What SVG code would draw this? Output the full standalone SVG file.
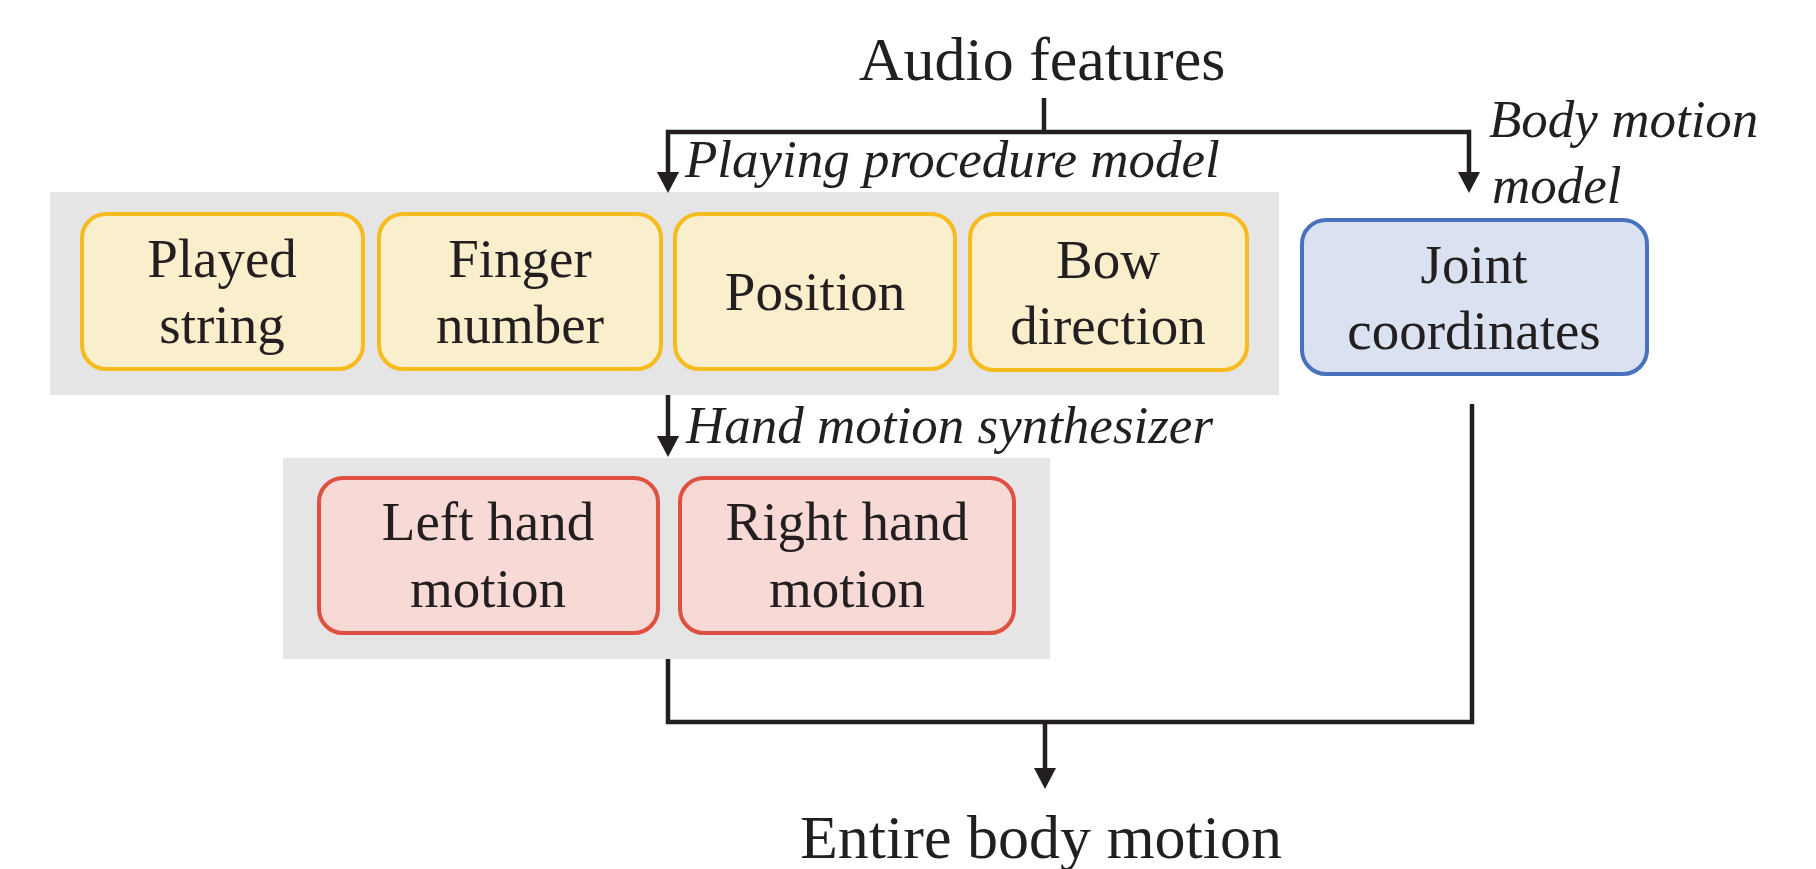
<svg xmlns="http://www.w3.org/2000/svg" width="1816" height="869" viewBox="0 0 1816 869">
<defs>
<style>
.t{font-family:"Liberation Serif","Times New Roman",serif;fill:#231f20;text-anchor:middle}
.lbl{font-size:55px}
.big{font-size:62px}
.it{font-family:"Liberation Serif","Times New Roman",serif;font-style:italic;font-size:53px;fill:#231f20}
.panel{fill:#e5e5e5}
.y{fill:#faefcd;stroke:#f5bb1f;stroke-width:4}
.r{fill:#f7d9d6;stroke:#e05040;stroke-width:4}
.b{fill:#dae1f0;stroke:#4a72bc;stroke-width:4}
.ln{fill:none;stroke:#231f20;stroke-width:4.5}
.ah{fill:#231f20}
</style>
</defs>
<rect width="1816" height="869" fill="#ffffff"/>
<g id="panel-playing"><rect class="panel" x="50" y="192" width="1229" height="203"/></g>
<g id="panel-hand"><rect class="panel" x="283" y="458" width="767" height="201"/></g>

<g id="played-string"><rect class="y" x="82" y="214" width="281" height="155" rx="24"/>
<text class="t lbl" x="222" y="277">Played</text><text class="t lbl" x="222" y="343">string</text></g>
<g id="finger-number"><rect class="y" x="379" y="214" width="282" height="155" rx="24"/>
<text class="t lbl" x="520" y="277">Finger</text><text class="t lbl" x="520" y="343">number</text></g>
<g id="position"><rect class="y" x="675" y="214" width="280" height="155" rx="24"/>
<text class="t lbl" x="815" y="310">Position</text></g>
<g id="bow-direction"><rect class="y" x="970" y="214" width="277" height="156" rx="24"/>
<text class="t lbl" x="1108" y="278">Bow</text><text class="t lbl" x="1108" y="344">direction</text></g>
<g id="joint-coordinates"><rect class="b" x="1302" y="220" width="345" height="154" rx="24"/>
<text class="t lbl" x="1474" y="283">Joint</text><text class="t lbl" x="1474" y="349">coordinates</text></g>
<g id="left-hand"><rect class="r" x="319" y="478" width="339" height="155" rx="24"/>
<text class="t lbl" x="488" y="540">Left hand</text><text class="t lbl" x="488" y="607">motion</text></g>
<g id="right-hand"><rect class="r" x="680" y="478" width="334" height="155" rx="24"/>
<text class="t lbl" x="847" y="540">Right hand</text><text class="t lbl" x="847" y="607">motion</text></g>

<g id="audio-features"><text class="t big" x="1042" y="80">Audio features</text></g>
<g id="entire-body-motion"><text class="t big" x="1041" y="858">Entire body motion</text></g>

<g id="labels">
<text class="it" x="685" y="177">Playing procedure model</text>
<text class="it" x="1489" y="137">Body motion</text>
<text class="it" x="1492" y="203">model</text>
<text class="it" x="686" y="443">Hand motion synthesizer</text>
</g>

<g id="connectors">
<path class="ln" d="M1044,98 V132"/>
<path class="ln" d="M668,175 V132 H1469 V175"/>
<polygon class="ah" points="657,172 679,172 668,193"/>
<polygon class="ah" points="1458,172 1480,172 1469,193"/>
<path class="ln" d="M668,395 V439"/>
<polygon class="ah" points="657,436 679,436 668,457"/>
<path class="ln" d="M668,659 V722 H1472 V404"/>
<path class="ln" d="M1045,722 V771"/>
<polygon class="ah" points="1034,768 1056,768 1045,789"/>
</g>
</svg>
